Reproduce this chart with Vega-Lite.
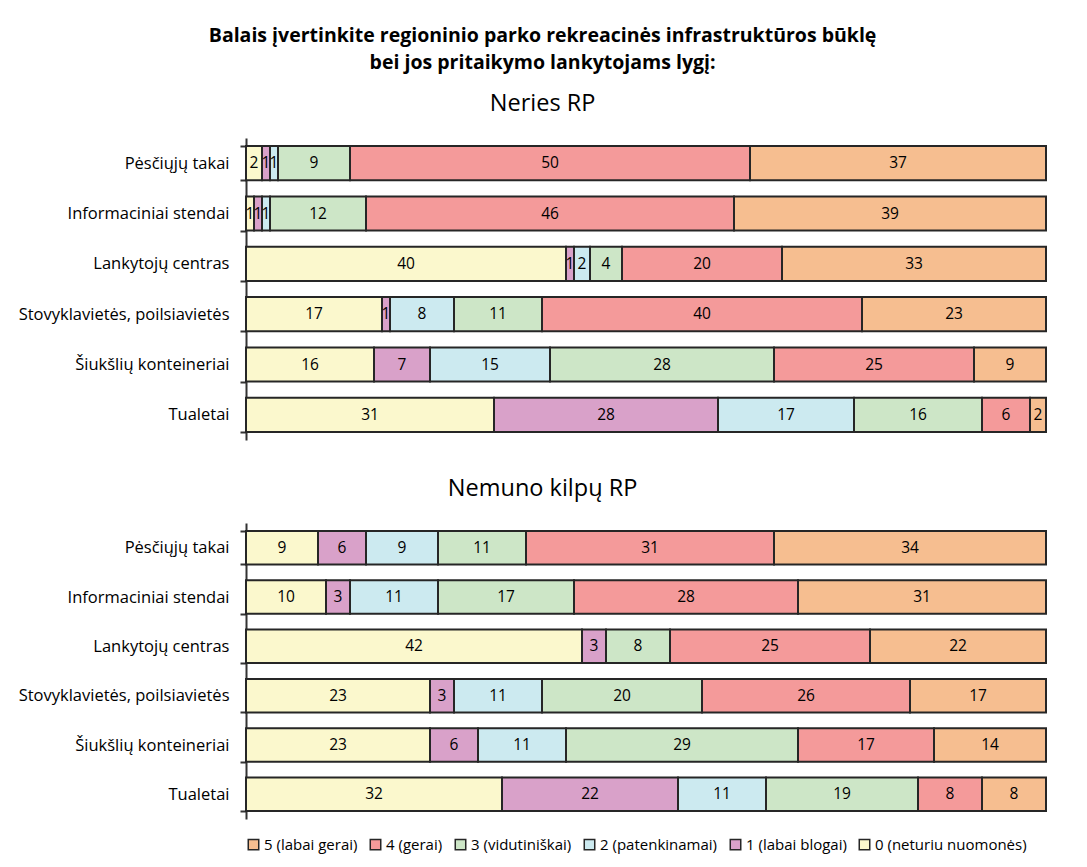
{
  "$schema": "https://vega.github.io/schema/vega-lite/v6.json",
  "padding": {"top": 26, "left": 18, "right": 28, "bottom": 8},
  "background": "white",
  "config": {
    "font": "Open Sans",
    "view": {"stroke": null},
    "concat": {"spacing": 36}
  },
  "title": {
    "text": ["Balais įvertinkite regioninio parko rekreacinės infrastruktūros būklę", "bei jos pritaikymo lankytojams lygį:"],
    "fontSize": 19.5,
    "fontWeight": "bold",
    "lineHeight": 27,
    "anchor": "middle",
    "frame": "bounds",
    "color": "#000",
    "offset": 18,
    "dx": 10
  },
  "data": {"values": [
    {"park":"Neries RP","item":"Pėsčiųjų takai","score":"0 (neturiu nuomonės)","value":2},
    {"park":"Neries RP","item":"Pėsčiųjų takai","score":"1 (labai blogai)","value":1},
    {"park":"Neries RP","item":"Pėsčiųjų takai","score":"2 (patenkinamai)","value":1},
    {"park":"Neries RP","item":"Pėsčiųjų takai","score":"3 (vidutiniškai)","value":9},
    {"park":"Neries RP","item":"Pėsčiųjų takai","score":"4 (gerai)","value":50},
    {"park":"Neries RP","item":"Pėsčiųjų takai","score":"5 (labai gerai)","value":37},
    {"park":"Neries RP","item":"Informaciniai stendai","score":"0 (neturiu nuomonės)","value":1},
    {"park":"Neries RP","item":"Informaciniai stendai","score":"1 (labai blogai)","value":1},
    {"park":"Neries RP","item":"Informaciniai stendai","score":"2 (patenkinamai)","value":1},
    {"park":"Neries RP","item":"Informaciniai stendai","score":"3 (vidutiniškai)","value":12},
    {"park":"Neries RP","item":"Informaciniai stendai","score":"4 (gerai)","value":46},
    {"park":"Neries RP","item":"Informaciniai stendai","score":"5 (labai gerai)","value":39},
    {"park":"Neries RP","item":"Lankytojų centras","score":"0 (neturiu nuomonės)","value":40},
    {"park":"Neries RP","item":"Lankytojų centras","score":"1 (labai blogai)","value":1},
    {"park":"Neries RP","item":"Lankytojų centras","score":"2 (patenkinamai)","value":2},
    {"park":"Neries RP","item":"Lankytojų centras","score":"3 (vidutiniškai)","value":4},
    {"park":"Neries RP","item":"Lankytojų centras","score":"4 (gerai)","value":20},
    {"park":"Neries RP","item":"Lankytojų centras","score":"5 (labai gerai)","value":33},
    {"park":"Neries RP","item":"Stovyklavietės, poilsiavietės","score":"0 (neturiu nuomonės)","value":17},
    {"park":"Neries RP","item":"Stovyklavietės, poilsiavietės","score":"1 (labai blogai)","value":1},
    {"park":"Neries RP","item":"Stovyklavietės, poilsiavietės","score":"2 (patenkinamai)","value":8},
    {"park":"Neries RP","item":"Stovyklavietės, poilsiavietės","score":"3 (vidutiniškai)","value":11},
    {"park":"Neries RP","item":"Stovyklavietės, poilsiavietės","score":"4 (gerai)","value":40},
    {"park":"Neries RP","item":"Stovyklavietės, poilsiavietės","score":"5 (labai gerai)","value":23},
    {"park":"Neries RP","item":"Šiukšlių konteineriai","score":"0 (neturiu nuomonės)","value":16},
    {"park":"Neries RP","item":"Šiukšlių konteineriai","score":"1 (labai blogai)","value":7},
    {"park":"Neries RP","item":"Šiukšlių konteineriai","score":"2 (patenkinamai)","value":15},
    {"park":"Neries RP","item":"Šiukšlių konteineriai","score":"3 (vidutiniškai)","value":28},
    {"park":"Neries RP","item":"Šiukšlių konteineriai","score":"4 (gerai)","value":25},
    {"park":"Neries RP","item":"Šiukšlių konteineriai","score":"5 (labai gerai)","value":9},
    {"park":"Neries RP","item":"Tualetai","score":"0 (neturiu nuomonės)","value":31},
    {"park":"Neries RP","item":"Tualetai","score":"1 (labai blogai)","value":28},
    {"park":"Neries RP","item":"Tualetai","score":"2 (patenkinamai)","value":17},
    {"park":"Neries RP","item":"Tualetai","score":"3 (vidutiniškai)","value":16},
    {"park":"Neries RP","item":"Tualetai","score":"4 (gerai)","value":6},
    {"park":"Neries RP","item":"Tualetai","score":"5 (labai gerai)","value":2},
    {"park":"Nemuno kilpų RP","item":"Pėsčiųjų takai","score":"0 (neturiu nuomonės)","value":9},
    {"park":"Nemuno kilpų RP","item":"Pėsčiųjų takai","score":"1 (labai blogai)","value":6},
    {"park":"Nemuno kilpų RP","item":"Pėsčiųjų takai","score":"2 (patenkinamai)","value":9},
    {"park":"Nemuno kilpų RP","item":"Pėsčiųjų takai","score":"3 (vidutiniškai)","value":11},
    {"park":"Nemuno kilpų RP","item":"Pėsčiųjų takai","score":"4 (gerai)","value":31},
    {"park":"Nemuno kilpų RP","item":"Pėsčiųjų takai","score":"5 (labai gerai)","value":34},
    {"park":"Nemuno kilpų RP","item":"Informaciniai stendai","score":"0 (neturiu nuomonės)","value":10},
    {"park":"Nemuno kilpų RP","item":"Informaciniai stendai","score":"1 (labai blogai)","value":3},
    {"park":"Nemuno kilpų RP","item":"Informaciniai stendai","score":"2 (patenkinamai)","value":11},
    {"park":"Nemuno kilpų RP","item":"Informaciniai stendai","score":"3 (vidutiniškai)","value":17},
    {"park":"Nemuno kilpų RP","item":"Informaciniai stendai","score":"4 (gerai)","value":28},
    {"park":"Nemuno kilpų RP","item":"Informaciniai stendai","score":"5 (labai gerai)","value":31},
    {"park":"Nemuno kilpų RP","item":"Lankytojų centras","score":"0 (neturiu nuomonės)","value":42},
    {"park":"Nemuno kilpų RP","item":"Lankytojų centras","score":"1 (labai blogai)","value":3},
    {"park":"Nemuno kilpų RP","item":"Lankytojų centras","score":"2 (patenkinamai)","value":0},
    {"park":"Nemuno kilpų RP","item":"Lankytojų centras","score":"3 (vidutiniškai)","value":8},
    {"park":"Nemuno kilpų RP","item":"Lankytojų centras","score":"4 (gerai)","value":25},
    {"park":"Nemuno kilpų RP","item":"Lankytojų centras","score":"5 (labai gerai)","value":22},
    {"park":"Nemuno kilpų RP","item":"Stovyklavietės, poilsiavietės","score":"0 (neturiu nuomonės)","value":23},
    {"park":"Nemuno kilpų RP","item":"Stovyklavietės, poilsiavietės","score":"1 (labai blogai)","value":3},
    {"park":"Nemuno kilpų RP","item":"Stovyklavietės, poilsiavietės","score":"2 (patenkinamai)","value":11},
    {"park":"Nemuno kilpų RP","item":"Stovyklavietės, poilsiavietės","score":"3 (vidutiniškai)","value":20},
    {"park":"Nemuno kilpų RP","item":"Stovyklavietės, poilsiavietės","score":"4 (gerai)","value":26},
    {"park":"Nemuno kilpų RP","item":"Stovyklavietės, poilsiavietės","score":"5 (labai gerai)","value":17},
    {"park":"Nemuno kilpų RP","item":"Šiukšlių konteineriai","score":"0 (neturiu nuomonės)","value":23},
    {"park":"Nemuno kilpų RP","item":"Šiukšlių konteineriai","score":"1 (labai blogai)","value":6},
    {"park":"Nemuno kilpų RP","item":"Šiukšlių konteineriai","score":"2 (patenkinamai)","value":11},
    {"park":"Nemuno kilpų RP","item":"Šiukšlių konteineriai","score":"3 (vidutiniškai)","value":29},
    {"park":"Nemuno kilpų RP","item":"Šiukšlių konteineriai","score":"4 (gerai)","value":17},
    {"park":"Nemuno kilpų RP","item":"Šiukšlių konteineriai","score":"5 (labai gerai)","value":14},
    {"park":"Nemuno kilpų RP","item":"Tualetai","score":"0 (neturiu nuomonės)","value":32},
    {"park":"Nemuno kilpų RP","item":"Tualetai","score":"1 (labai blogai)","value":22},
    {"park":"Nemuno kilpų RP","item":"Tualetai","score":"2 (patenkinamai)","value":11},
    {"park":"Nemuno kilpų RP","item":"Tualetai","score":"3 (vidutiniškai)","value":19},
    {"park":"Nemuno kilpų RP","item":"Tualetai","score":"4 (gerai)","value":8},
    {"park":"Nemuno kilpų RP","item":"Tualetai","score":"5 (labai gerai)","value":8}
  ]},
  "vconcat": [
    {
      "title": {"text": "Neries RP", "fontSize": 23.5, "fontWeight": "normal", "anchor": "middle", "frame": "bounds", "color": "#000", "offset": 15, "dx": 10},
      "width": 800,
      "height": 302,
      "transform": [
        {"filter": "datum.park === 'Neries RP'"},
        {"stack": "value", "groupby": ["item"], "sort": [{"field": "score", "order": "ascending"}], "as": ["x0", "x1"]},
        {"calculate": "(datum.x0 + datum.x1) / 2", "as": "xm"}
      ],
      "encoding": {
        "y": {
          "field": "item", "type": "nominal", "sort": null, "title": null,
          "scale": {"paddingInner": 0.32, "paddingOuter": 0.16},
          "axis": {"labelFontSize": 16.5, "labelLimit": 400, "labelColor": "#000", "labelPadding": 11, "domainColor": "#333", "domainWidth": 2, "tickColor": "#333", "tickWidth": 2, "tickSize": 6, "tickBand": "extent", "labelFont": "Open Sans"}
        }
      },
      "layer": [
        {
          "mark": {"type": "bar", "stroke": "#262626", "strokeWidth": 2},
          "encoding": {
            "x": {"field": "x0", "type": "quantitative", "scale": {"domain": [0, 100], "nice": false}, "axis": null},
            "x2": {"field": "x1"},
            "color": {
              "field": "score", "type": "nominal",
              "scale": {
                "domain": ["5 (labai gerai)", "4 (gerai)", "3 (vidutiniškai)", "2 (patenkinamai)", "1 (labai blogai)", "0 (neturiu nuomonės)"],
                "range": ["#F6BE90", "#F49A9A", "#CDE6C7", "#CCEAF0", "#D9A1C9", "#FBF8CD"]
              },
              "legend": {"orient": "bottom", "direction": "horizontal", "title": null, "symbolType": "square", "symbolSize": 110, "symbolStrokeColor": "#262626", "symbolStrokeWidth": 1.5, "labelFontSize": 15, "labelLimit": 400, "labelColor": "#000", "labelFont": "Open Sans", "columnPadding": 9, "symbolOffset": 0, "labelOffset": 3, "offset": 18}
            }
          }
        },
        {
          "transform": [{"filter": "datum.value > 0"}],
          "mark": {"type": "text", "fontSize": 15.5, "color": "#000", "font": "Open Sans"},
          "encoding": {
            "x": {"field": "xm", "type": "quantitative"},
            "text": {"field": "value", "type": "quantitative"}
          }
        }
      ]
    },
    {
      "title": {"text": "Nemuno kilpų RP", "fontSize": 23.5, "fontWeight": "normal", "anchor": "middle", "frame": "bounds", "color": "#000", "offset": 15, "dx": 10},
      "width": 800,
      "height": 296,
      "transform": [
        {"filter": "datum.park === 'Nemuno kilpų RP'"},
        {"stack": "value", "groupby": ["item"], "sort": [{"field": "score", "order": "ascending"}], "as": ["x0", "x1"]},
        {"calculate": "(datum.x0 + datum.x1) / 2", "as": "xm"}
      ],
      "encoding": {
        "y": {
          "field": "item", "type": "nominal", "sort": null, "title": null,
          "scale": {"paddingInner": 0.32, "paddingOuter": 0.16},
          "axis": {"labelFontSize": 16.5, "labelLimit": 400, "labelColor": "#000", "labelPadding": 11, "domainColor": "#333", "domainWidth": 2, "tickColor": "#333", "tickWidth": 2, "tickSize": 6, "tickBand": "extent", "labelFont": "Open Sans"}
        }
      },
      "layer": [
        {
          "mark": {"type": "bar", "stroke": "#262626", "strokeWidth": 2},
          "encoding": {
            "x": {"field": "x0", "type": "quantitative", "scale": {"domain": [0, 100], "nice": false}, "axis": null},
            "x2": {"field": "x1"},
            "color": {"field": "score", "type": "nominal"}
          }
        },
        {
          "transform": [{"filter": "datum.value > 0"}],
          "mark": {"type": "text", "fontSize": 15.5, "color": "#000", "font": "Open Sans"},
          "encoding": {
            "x": {"field": "xm", "type": "quantitative"},
            "text": {"field": "value", "type": "quantitative"}
          }
        }
      ]
    }
  ]
}
